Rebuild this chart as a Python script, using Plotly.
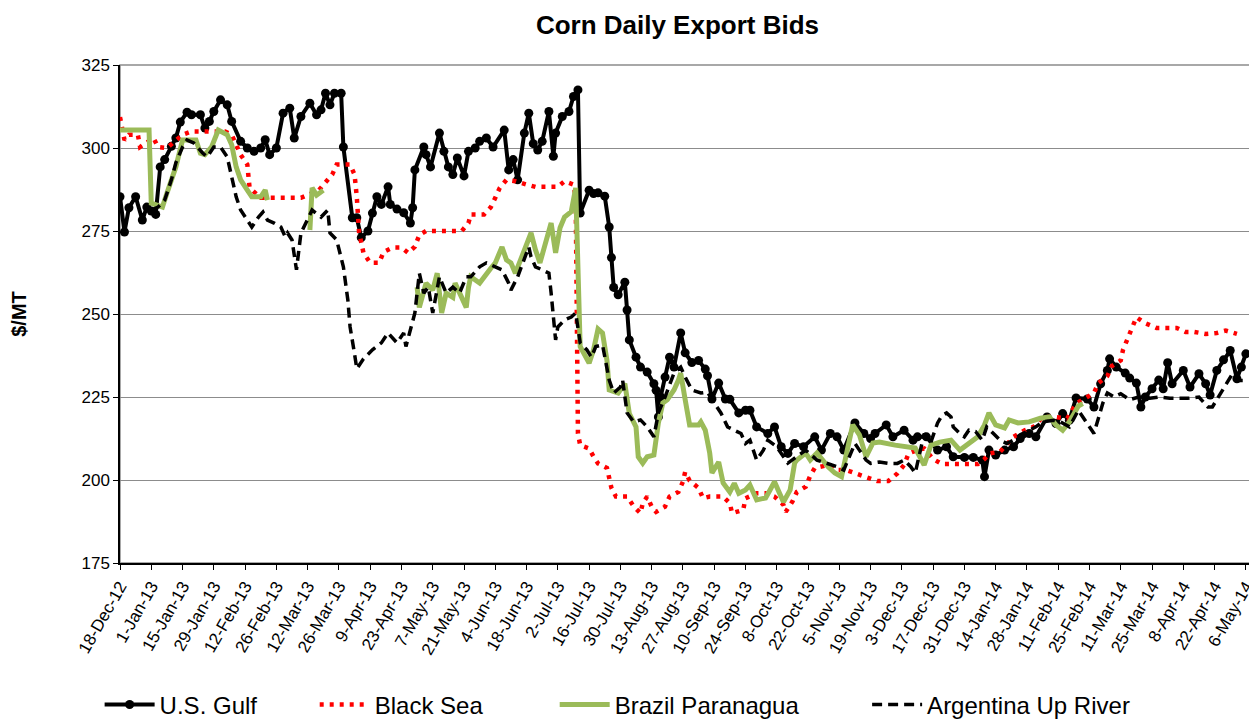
import datetime as dt
import plotly.graph_objects as go

START = dt.date(2012, 12, 18)

# days counted from 18-Dec-2012, bids in $/MT
gulf_day = [0, 2, 4, 7, 10, 12, 14, 16, 18, 20, 23, 25, 27, 30, 32, 36, 38, 40, 42, 45,
            48, 50, 54, 57, 60, 63, 65, 67, 70, 73, 76, 78, 81, 85, 88, 90, 92, 94, 96, 99,
            100, 104, 106, 108, 111, 113, 115, 117, 120, 121, 124, 127, 130, 131, 132, 136, 137, 139, 143, 145,
            147, 149, 151, 154, 156, 159, 161, 164, 167, 172, 174, 176, 178, 181, 183, 185, 187, 189, 192, 194,
            195, 198, 201, 203, 205, 206, 210, 212, 214, 217, 219, 220, 221, 223, 226, 227, 228, 231, 233, 236,
            239, 240, 241, 242, 244, 246, 248, 251, 253, 256, 259, 262, 263, 265, 268, 271, 273, 277, 280, 282,
            285, 290, 293, 296, 299, 302, 306, 311, 314, 318, 321, 324, 329, 333, 336, 338, 343, 346, 351, 355,
            357, 361, 366, 370, 373, 378, 382, 386, 387, 389, 392, 396, 400, 403, 407, 410, 415, 419, 422, 425,
            428, 433, 436, 439, 442, 443, 446, 450, 452, 455, 457, 459, 462, 465, 467, 469, 471, 476, 479, 483,
            486, 488, 491, 494, 497, 500, 502, 504]
gulf_bid = [285.3, 274.7, 282, 285.3, 278.3, 282.2, 281, 280, 294.3, 296.5, 300.5, 303, 307.8, 310.8, 310, 310, 306, 308, 311, 314.5,
            313, 308, 302, 300, 299, 300, 302.5, 298, 300, 310.5, 312, 303, 309.5, 313.5, 310, 311.5, 316.5, 313, 316.5, 316.5,
            300.3, 279, 279, 273, 275, 280.4, 285.3, 283, 288.3, 283, 281.6, 280.5, 277.4, 282, 293.4, 300.3, 298, 294.3, 304.5, 299,
            294.3, 292, 297, 291.6, 299, 300, 302, 303, 300.3, 305.4, 293.4, 296.5, 290.4, 304.5, 310.5, 301.3, 299.4, 302, 311, 297.5,
            304.5, 309.5, 311, 315.5, 317.5, 280.4, 287.3, 286.3, 286.5, 285.5, 276.2, 267, 258, 255.8, 259.6, 251.2, 242.2, 237, 234, 232.5,
            229, 227, 219, 225, 231, 237, 234, 244.3, 238.3, 235.4, 236, 233.4, 231.4, 224.4, 229.2, 224.4, 224.3, 220.2, 221, 221,
            216, 214, 216, 210, 208, 211, 210, 213, 209, 214, 213, 209, 217.2, 214, 212.5, 214, 216.6, 213, 215, 212,
            213, 213, 209, 210, 207, 206.8, 206.8, 206, 201, 209, 207.5, 209, 210, 212.5, 214, 213, 219, 217, 220, 218,
            224.7, 224.4, 222, 229, 233, 236.5, 234, 232.2, 230.7, 229.2, 222, 225, 227.5, 230.1, 227.5, 235.3, 229, 233, 228, 232,
            229, 225.6, 233, 236.2, 239, 230.5, 234, 238]

black_sea_day = [0, 1, 2, 4, 8, 9, 15, 17, 21, 28, 32, 37, 41, 47, 50, 54, 57, 58, 63, 70,
                 81, 89, 92, 95, 97, 103, 105, 106, 107, 108, 109, 112, 116, 118, 122, 126, 129, 132, 134, 137,
                 143, 148, 153, 156, 157, 163, 166, 168, 170, 173, 177, 182, 186, 191, 196, 199, 203, 204, 205, 206,
                 210, 212, 214, 218, 219, 220, 222, 227, 230, 233, 234, 236, 238, 240, 244, 246, 250, 252, 253, 255,
                 259, 261, 264, 270, 273, 274, 279, 280, 285, 289, 293, 297, 298, 301, 303, 307, 309, 311, 317, 320,
                 325, 329, 334, 339, 344, 348, 351, 353, 357, 360, 364, 368, 373, 378, 384, 387, 389, 394, 397, 400,
                 405, 409, 413, 418, 424, 428, 433, 436, 438, 442, 444, 448, 449, 451, 453, 455, 459, 464, 469, 473,
                 477, 481, 486, 491, 495, 500]
black_sea_bid = [309.3, 306, 302.4, 304, 304, 300.3, 303, 300.3, 300, 304, 305, 305, 305, 305, 304, 298, 295, 288, 285, 285,
                 285, 287.3, 289.5, 292, 295, 295, 292, 285.3, 274.7, 271.4, 268.4, 265.4, 265.4, 268.7, 270, 270, 268.4, 270.3, 273.8, 275,
                 275, 275, 275, 277.4, 280, 280, 282.2, 285, 288, 290.4, 290, 289, 288.3, 288.3, 288.3, 290, 289, 285, 214, 210.5,
                 209.5, 207, 205, 203.6, 200, 197.6, 195, 195, 192, 190, 193, 195, 192, 190.4, 192, 195, 196.4, 199.5, 202.4, 199.8,
                 197.6, 194.5, 195, 195, 193, 190, 191, 194.5, 196, 196, 195, 192.5, 190.4, 193.5, 196.4, 198, 201.3, 203.6, 204.5, 203,
                 203, 202, 200.6, 199.7, 199.7, 202, 204.5, 208, 209, 209.5, 206.3, 204.8, 204.8, 204.8, 204.8, 206.3, 208, 208.5, 211, 213,
                 215, 216, 219, 219, 218.5, 223, 225, 226.2, 229.2, 231.3, 234.3, 236, 239.2, 242.5, 245.8, 249, 247.2, 245.8, 245.8, 245.8,
                 244.6, 244.6, 244, 244.3, 245, 244]

brazil_day = [0, 13, 14, 19, 21, 25, 28, 34, 36, 38, 41, 44, 48, 50, 52, 54, 57, 59, 63, 65,
              66, None, 85, 86, 88, 91, None, 133, 134, 137, 140, 142, 144, 146, 149, 150, 155, 156, 157, 161,
              164, 166, 168, 171, 173, 175, 177, 180, 184, 186, 188, 190, 193, 195, 197, 199, 202, 204, 206, 210,
              212, 214, 216, 218, 219, 223, 226, 228, 231, 232, 234, 236, 239, 241, 243, 245, 248, 250, 251, 253,
              255, 259, 260, 262, 264, 265, 268, 270, 273, 275, 277, 280, 282, 285, 289, 291, 293, 295, 297, 300,
              302, 303, 307, 309, 312, 317, 320, 323, 326, 328, 331, 334, 337, 340, 347, 352, 356, 360, 363, 367,
              372, 376, 380, 384, 387, 389, 392, 396, 398, 402, 407, 412, 416, 419, 422, 425, 429, 431]
brazil_bid = [305.4, 305.4, 283.4, 282.2, 286.4, 294.3, 302.4, 302.4, 298.4, 298, 300.3, 305.4, 304, 301, 294.3, 290.4, 287.3, 285.3, 285.3, 287.3,
              284.3, None, 275.3, 288, 285.8, 287.3, None, 258.1, 252, 259.3, 257.2, 262.3, 250.3, 256.3, 255, 259.3, 252, 258, 261.2, 259.3,
              262.3, 263.8, 265.4, 270.2, 266.3, 265.4, 262.3, 267.2, 274.4, 269.3, 265.4, 270.2, 277.4, 268.4, 276, 279.2, 280.8, 288, 240.2, 235.2,
              239.2, 245.5, 244.3, 236, 227.1, 226.2, 229, 220, 216, 207, 205.1, 207, 207.5, 217.2, 223.2, 224.2, 227.1, 230.1, 232.2, 224.2,
              216.6, 216.6, 217.5, 215, 208.1, 202.1, 205.4, 199.1, 196.4, 199, 196, 197, 198.5, 194, 194.6, 197, 199.5, 196.4, 193.4, 197,
              205.1, 206, 208.1, 206, 208.1, 204, 202.1, 201, 210, 216.6, 213.6, 207, 211.1, 211.4, 210.5, 210, 209.6, 204.5, 210.5, 211.4,
              212, 209, 211.1, 213, 216.6, 220.2, 216.6, 215.7, 218.1, 217.2, 217.5, 218.6, 219, 216.6, 215, 217.5, 222.3, 223]

argentina_day = [14, 17, 20, 23, 25, 28, 30, 33, 37, 39, 42, 45, 48, 50, 52, 54, 57, 59, 62, 64,
                 66, 69, 72, 74, 75, 77, 79, 81, 86, 90, 93, 94, 97, 100, 102, 103, 105, 106, 109, 113,
                 117, 120, 124, 127, 128, 132, 134, 136, 138, 140, 143, 146, 149, 152, 155, 157, 161, 164, 168, 171,
                 174, 175, 178, 181, 183, 184, 186, 189, 192, 193, 195, 196, 199, 202, 204, 206, 209, 211, 213, 216,
                 219, 221, 224, 225, 227, 230, 233, 236, 239, 241, 244, 248, 251, 253, 256, 260, 263, 266, 269, 272,
                 275, 278, 280, 282, 285, 288, 290, 294, 299, 303, 307, 312, 317, 321, 324, 327, 329, 331, 334, 336,
                 340, 344, 348, 351, 354, 356, 358, 360, 363, 366, 368, 370, 372, 373, 376, 378, 380, 383, 386, 388,
                 391, 394, 397, 400, 403, 407, 410, 413, 418, 421, 425, 429, 433, 436, 438, 440, 442, 445, 448, 452,
                 456, 461, 465, 470, 474, 478, 483, 487, 489, 498, 500, 504]
argentina_bid = [281.3, 282.2, 284.3, 290.4, 295.5, 300.3, 302.4, 301.5, 298.5, 297.3, 300.3, 300.3, 297.3, 291.3, 285.3, 281.3, 278.3, 276.2, 279.2, 280.7,
                 278.3, 277.4, 276.2, 273.2, 274.4, 272.3, 263.3, 274.4, 281.3, 279.2, 281.3, 274.4, 272.3, 264.2, 254.2, 246.1, 238, 233.5, 236.5, 239.2,
                 241.3, 244.3, 241.3, 244.3, 240.2, 250.3, 262.3, 256.3, 258.1, 250.3, 261.2, 256.3, 258.1, 256.3, 261.2, 261.2, 264.2, 265.4, 264.2, 263.3,
                 259.3, 257.2, 261.2, 266.3, 270.2, 267.2, 264.2, 263.3, 262.3, 256.3, 242.2, 246.1, 248.2, 249.1, 250.3, 241.3, 239.2, 237, 240.2, 240.7,
                 230.1, 226.2, 228, 230.1, 220.2, 217.5, 218.1, 216, 213, 220.2, 225, 232.2, 234, 231, 227.1, 226.2, 226.5, 223.2, 220.2, 216,
                 215, 214, 211, 212, 206, 209, 212, 210, 205.1, 207, 209, 206, 205, 204, 203, 208, 211, 209, 206, 205,
                 205.4, 205, 205, 206, 204, 202.1, 208.1, 214, 211.4, 217.2, 219.5, 220.2, 219, 216, 214, 213, 215, 214.6, 212, 216,
                 214, 212, 211, 212, 213.6, 215, 216, 217.5, 218, 217.5, 216, 221, 217.2, 214, 218.6, 223.2, 226.2, 225, 226, 224.2,
                 225, 224.6, 225, 224.6, 224.6, 224.6, 225, 222, 222, 232, 230, 230]


def to_dates(days):
    return [None if d is None else START + dt.timedelta(days=d) for d in days]


FONT = "Liberation Sans, Arial, sans-serif"

# the page puts the figure 8px in from the top-left corner, so the figure is
# sized to the part of the window that is left
W, H = 1249, 711

fig = go.Figure()

fig.add_trace(go.Scatter(
    x=to_dates(gulf_day), y=gulf_bid, name="U.S. Gulf", mode="lines+markers",
    line=dict(color="black", width=4),
    marker=dict(color="black", size=9, symbol="circle"),
    legend="legend",
))
fig.add_trace(go.Scatter(
    x=to_dates(black_sea_day), y=black_sea_bid, name="Black Sea", mode="lines",
    line=dict(color="#FF0000", width=4.5, dash="4px,6px"),
    legend="legend2",
))
fig.add_trace(go.Scatter(
    x=to_dates(brazil_day), y=brazil_bid, name="Brazil Paranagua", mode="lines",
    line=dict(color="#9BBB59", width=5), connectgaps=False,
    legend="legend3",
))
fig.add_trace(go.Scatter(
    x=to_dates(argentina_day), y=argentina_bid, name="Argentina Up River", mode="lines",
    line=dict(color="black", width=3.5, dash="10px,6px"), connectgaps=False,
    legend="legend4",
))


def legend_at(x):
    return dict(orientation="h", x=x, xanchor="left", y=-0.285, yanchor="middle",
                font=dict(size=24), itemwidth=50, bgcolor="rgba(0,0,0,0)")


fig.update_layout(
    width=W, height=H,
    paper_bgcolor="white", plot_bgcolor="white",
    font=dict(family=FONT, color="black", size=17),
    margin=dict(l=112, r=5, t=57, b=156, autoexpand=False),
    title=dict(text="<b>Corn Daily Export Bids</b>", x=0.536, xanchor="center",
               y=1 - 17 / H, yanchor="middle", font=dict(size=26)),
    showlegend=True,
    legend=legend_at(-0.018),
    legend2=legend_at(0.172),
    legend3=legend_at(0.384),
    legend4=legend_at(0.660),
)

fig.update_xaxes(
    type="date", automargin=False,
    range=[dt.datetime(2012, 12, 18), dt.datetime(2014, 5, 8, 18)],
    tick0=dt.date(2012, 12, 18), dtick=14 * 86400000,
    tickformat="%-d-%b-%y", tickangle=-60, ticklabeloverflow="allow",
    tickfont=dict(size=17),
    showgrid=False, showline=True, linecolor="black", linewidth=1.5,
    ticks="outside", ticklen=5, tickcolor="black",
    mirror=False, zeroline=False,
)
fig.update_yaxes(
    range=[175, 325], dtick=25, tick0=175, automargin=False,
    title=dict(text="<b>$/MT</b>", font=dict(size=20), standoff=57),
    tickfont=dict(size=17),
    showgrid=True, gridcolor="#8C8C8C", gridwidth=1,
    showline=True, linecolor="black", linewidth=1.5,
    ticks="outside", ticklen=5, tickcolor="black", zeroline=False,
)

# plot-area frame (right and top edges are grey in the original)
fig.add_shape(type="rect", xref="paper", yref="paper", x0=0, x1=1, y0=0, y1=1,
              line=dict(color="#8C8C8C", width=1.5), layer="below")

fig.write_html("out.html")
